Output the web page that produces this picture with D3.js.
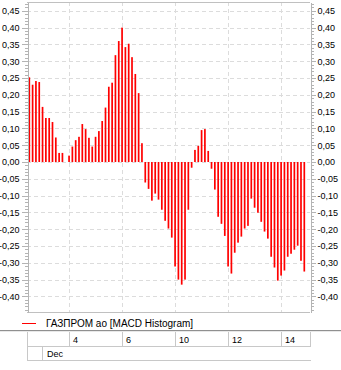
<!DOCTYPE html>
<html>
<head>
<meta charset="utf-8">
<script src="https://cdn.jsdelivr.net/npm/d3@7"></script>
<style>
  html, body { margin: 0; padding: 0; background: #ffffff; }
  svg { display: block; }
  text { font-family: "Liberation Sans", Arial, sans-serif; fill: #000; }
</style>
</head>
<body>
<svg id="chart" width="341" height="370"></svg>
<script>
// MACD histogram, one value per hourly bar
const histogram = [
  0.252, 0.230, 0.241, 0.238, 0.164, 0.131, 0.131, 0.119, 0.073, 0.027,
  0.027, 0.000, 0.019, 0.046, 0.065, 0.075, 0.113, 0.098, 0.072, 0.046,
  0.075, 0.092, 0.122, 0.162, 0.224, 0.236, 0.318, 0.360, 0.400, 0.342,
  0.352, 0.312, 0.262, 0.205, 0.056, -0.061, -0.080, -0.115, -0.094, -0.112,
  -0.142, -0.175, -0.198, -0.225, -0.311, -0.350, -0.365, -0.350, -0.142, -0.017,
  0.036, 0.048, 0.095, 0.098, 0.033, -0.020, -0.082, -0.163, -0.184, -0.220,
  -0.311, -0.332, -0.270, -0.240, -0.222, -0.198, -0.190, -0.109, -0.136, -0.151,
  -0.178, -0.207, -0.228, -0.282, -0.314, -0.353, -0.338, -0.323, -0.282, -0.273,
  -0.261, -0.249, -0.294, -0.326
];

// Day markers: label and the first bar of that day
const dayLabels = ["4", "6", "10", "12", "14"];
const dayStartBar = [12, 28, 44, 60, 76];
const monthLabel = "Dec";
const seriesName = "ГАЗПРОМ ао [MACD Histogram]";

// Value axis ticks
const yMajorTicks = [0.45, 0.40, 0.35, 0.30, 0.25, 0.20, 0.15, 0.10, 0.05, 0.00,
  -0.05, -0.10, -0.15, -0.20, -0.25, -0.30, -0.35, -0.40];
const yMinorTicks = d3.range(-44, 48).map(d => d / 100);

const W = 341, H = 370;
const plot = { left: 27, right: 310, top: 2, bottom: 312 };

const svg = d3.select("#chart");

const x = d3.scaleLinear().domain([0, histogram.length - 1]).range([29.3, 304.3]);
const y = d3.scaleLinear().domain([-0.4464, 0.4762]).range([plot.bottom, plot.top]);

const fmt = d => d3.format(".2f")(d).replace(".", ",").replace("\u2212", "-");

// Grid
const grid = svg.append("g").attr("stroke", "#dcdcdc").attr("stroke-dasharray", "4,3").attr("shape-rendering", "crispEdges");
grid.selectAll("line.h").data(yMajorTicks).join("line")
  .attr("class", "h")
  .attr("x1", plot.left).attr("x2", plot.right)
  .attr("y1", d => Math.round(y(d)) + 0.5).attr("y2", d => Math.round(y(d)) + 0.5);
grid.selectAll("line.v").data(dayStartBar).join("line")
  .attr("class", "v")
  .attr("y1", plot.top).attr("y2", plot.bottom)
  .attr("x1", d => Math.round(x(d)) + 0.5).attr("x2", d => Math.round(x(d)) + 0.5);

// Frame top and bottom
svg.append("g").attr("stroke", "#c0c0c0").attr("shape-rendering", "crispEdges")
  .selectAll("line").data([plot.top, plot.bottom]).join("line")
  .attr("x1", plot.left).attr("x2", plot.right)
  .attr("y1", d => d + 0.5).attr("y2", d => d + 0.5);

// Histogram bars
svg.append("g").attr("fill", "#ff0000")
  .selectAll("rect").data(histogram).join("rect")
  .attr("x", (d, i) => x(i) - 0.85)
  .attr("width", 1.7)
  .attr("y", d => y(Math.max(0, d)))
  .attr("height", d => Math.abs(y(d) - y(0)));

// Axes on both sides
function styleAxis(g) {
  g.attr("shape-rendering", "crispEdges");
  g.select(".domain").attr("stroke", "#b4b4b4");
  g.selectAll(".tick line").attr("stroke", "#b4b4b4");
  g.selectAll(".tick text").attr("font-size", "9px").attr("font-family", "'Liberation Sans', Arial, sans-serif").attr("fill", "#000");
}

const leftMinor = svg.append("g").attr("transform", `translate(${plot.left + 0.5},0)`)
  .call(d3.axisLeft(y).tickValues(yMinorTicks).tickSize(3).tickSizeOuter(0).tickFormat(""));
styleAxis(leftMinor);
const leftMajor = svg.append("g").attr("transform", `translate(${plot.left + 0.5},0)`)
  .call(d3.axisLeft(y).tickValues(yMajorTicks).tickSize(6).tickSizeOuter(0).tickPadding(2).tickFormat(fmt));
styleAxis(leftMajor);

const rightMinor = svg.append("g").attr("transform", `translate(${plot.right + 0.5},0)`)
  .call(d3.axisRight(y).tickValues(yMinorTicks).tickSize(3).tickSizeOuter(0).tickFormat(""));
styleAxis(rightMinor);
const rightMajor = svg.append("g").attr("transform", `translate(${plot.right + 0.5},0)`)
  .call(d3.axisRight(y).tickValues(yMajorTicks).tickSize(5).tickSizeOuter(0).tickPadding(2).tickFormat(fmt));
styleAxis(rightMajor);

// Legend
svg.append("line")
  .attr("x1", 22).attr("x2", 36).attr("y1", 323.5).attr("y2", 323.5)
  .attr("stroke", "#ff0000").attr("stroke-width", 1);
svg.append("text").attr("x", 46).attr("y", 327).attr("font-size", "10px").text(seriesName);

// Separator
svg.append("line").attr("x1", 0).attr("x2", W).attr("y1", 330.5).attr("y2", 330.5)
  .attr("stroke", "#909090").attr("shape-rendering", "crispEdges");
svg.append("line").attr("x1", 0).attr("x2", W).attr("y1", 331.5).attr("y2", 331.5)
  .attr("stroke", "#e8e8e8").attr("shape-rendering", "crispEdges");

// Date table under the chart
const row1 = 332, row2 = 346, row3 = 360;
const table = svg.append("g").attr("stroke", "#c8c8c8").attr("shape-rendering", "crispEdges");
table.append("line").attr("x1", plot.left + 0.5).attr("x2", plot.left + 0.5).attr("y1", row1).attr("y2", row3);
table.append("line").attr("x1", plot.right + 0.5).attr("x2", plot.right + 0.5).attr("y1", row1).attr("y2", row2);
table.append("line").attr("x1", plot.left).attr("x2", plot.right + 1).attr("y1", row2 + 0.5).attr("y2", row2 + 0.5);
table.append("line").attr("x1", plot.left).attr("x2", plot.right + 1).attr("y1", row3 + 0.5).attr("y2", row3 + 0.5);
table.append("line").attr("x1", 42.5).attr("x2", 42.5).attr("y1", row2).attr("y2", row3);
table.selectAll("line.day").data(dayStartBar).join("line")
  .attr("class", "day")
  .attr("x1", d => Math.round(x(d)) + 0.5).attr("x2", d => Math.round(x(d)) + 0.5)
  .attr("y1", row1).attr("y2", row2);

svg.append("g").selectAll("text").data(dayLabels).join("text")
  .attr("x", (d, i) => Math.round(x(dayStartBar[i])) + 4)
  .attr("y", row2 - 3)
  .attr("font-size", "9px")
  .text(d => d);
svg.append("text").attr("x", 47).attr("y", row3 - 3).attr("font-size", "9px").text(monthLabel);
</script>
</body>
</html>
